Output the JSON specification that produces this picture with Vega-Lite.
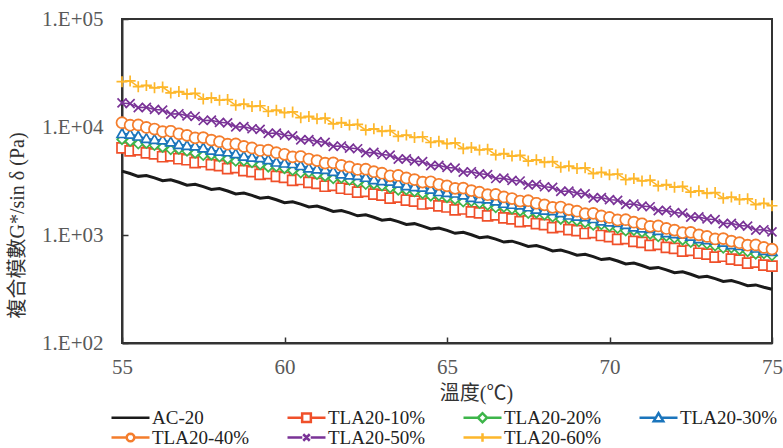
{
"$schema": "https://vega.github.io/schema/vega-lite/v6.json",
"width": 650, "height": 324,
"autosize": "none",
"padding": {"left": 122, "top": 19, "right": 11, "bottom": 105},
"background": "white",
"datasets": {"d": [
{"t":55,"s":"AC-20","v":3900},{"t":55.25,"s":"AC-20","v":3712},{"t":55.5,"s":"AC-20","v":3492},{"t":55.75,"s":"AC-20","v":3559},
{"t":56,"s":"AC-20","v":3382},{"t":56.25,"s":"AC-20","v":3179},{"t":56.5,"s":"AC-20","v":3242},{"t":56.75,"s":"AC-20","v":3080},
{"t":57,"s":"AC-20","v":2896},{"t":57.25,"s":"AC-20","v":2951},{"t":57.5,"s":"AC-20","v":2806},{"t":57.75,"s":"AC-20","v":2637},
{"t":58,"s":"AC-20","v":2689},{"t":58.25,"s":"AC-20","v":2554},{"t":58.5,"s":"AC-20","v":2403},{"t":58.75,"s":"AC-20","v":2449},
{"t":59,"s":"AC-20","v":2328},{"t":59.25,"s":"AC-20","v":2188},{"t":59.5,"s":"AC-20","v":2232},{"t":59.75,"s":"AC-20","v":2121},
{"t":60,"s":"AC-20","v":1993},{"t":60.25,"s":"AC-20","v":2031},{"t":60.5,"s":"AC-20","v":1932},{"t":60.75,"s":"AC-20","v":1816},
{"t":61,"s":"AC-20","v":1851},{"t":61.25,"s":"AC-20","v":1759},{"t":61.5,"s":"AC-20","v":1655},{"t":61.75,"s":"AC-20","v":1686},
{"t":62,"s":"AC-20","v":1602},{"t":62.25,"s":"AC-20","v":1505},{"t":62.5,"s":"AC-20","v":1536},{"t":62.75,"s":"AC-20","v":1459},
{"t":63,"s":"AC-20","v":1373},{"t":63.25,"s":"AC-20","v":1398},{"t":63.5,"s":"AC-20","v":1330},{"t":63.75,"s":"AC-20","v":1250},
{"t":64,"s":"AC-20","v":1274},{"t":64.25,"s":"AC-20","v":1210},{"t":64.5,"s":"AC-20","v":1139},{"t":64.75,"s":"AC-20","v":1161},
{"t":65,"s":"AC-20","v":1103},{"t":65.25,"s":"AC-20","v":1037},{"t":65.5,"s":"AC-20","v":1058},{"t":65.75,"s":"AC-20","v":1005},
{"t":66,"s":"AC-20","v":945},{"t":66.25,"s":"AC-20","v":963},{"t":66.5,"s":"AC-20","v":916},{"t":66.75,"s":"AC-20","v":860},
{"t":67,"s":"AC-20","v":877},{"t":67.25,"s":"AC-20","v":833},{"t":67.5,"s":"AC-20","v":784},{"t":67.75,"s":"AC-20","v":799},
{"t":68,"s":"AC-20","v":759},{"t":68.25,"s":"AC-20","v":713},{"t":68.5,"s":"AC-20","v":727},{"t":68.75,"s":"AC-20","v":691},
{"t":69,"s":"AC-20","v":650},{"t":69.25,"s":"AC-20","v":662},{"t":69.5,"s":"AC-20","v":630},{"t":69.75,"s":"AC-20","v":592},
{"t":70,"s":"AC-20","v":604},{"t":70.25,"s":"AC-20","v":574},{"t":70.5,"s":"AC-20","v":539},{"t":70.75,"s":"AC-20","v":550},
{"t":71,"s":"AC-20","v":522},{"t":71.25,"s":"AC-20","v":491},{"t":71.5,"s":"AC-20","v":501},{"t":71.75,"s":"AC-20","v":476},
{"t":72,"s":"AC-20","v":447},{"t":72.25,"s":"AC-20","v":456},{"t":72.5,"s":"AC-20","v":433},{"t":72.75,"s":"AC-20","v":407},
{"t":73,"s":"AC-20","v":415},{"t":73.25,"s":"AC-20","v":394},{"t":73.5,"s":"AC-20","v":372},{"t":73.75,"s":"AC-20","v":378},
{"t":74,"s":"AC-20","v":360},{"t":74.25,"s":"AC-20","v":339},{"t":74.5,"s":"AC-20","v":345},{"t":74.75,"s":"AC-20","v":328},
{"t":75,"s":"AC-20","v":315},
{"t":55,"s":"TLA20-10%","v":6400},{"t":55.25,"s":"TLA20-10%","v":6016},{"t":55.5,"s":"TLA20-10%","v":6130},{"t":55.75,"s":"TLA20-10%","v":5766},
{"t":56,"s":"TLA20-10%","v":5643},{"t":56.25,"s":"TLA20-10%","v":5304},{"t":56.5,"s":"TLA20-10%","v":5405},{"t":56.75,"s":"TLA20-10%","v":5084},
{"t":57,"s":"TLA20-10%","v":4975},{"t":57.25,"s":"TLA20-10%","v":4676},{"t":57.5,"s":"TLA20-10%","v":4765},{"t":57.75,"s":"TLA20-10%","v":4482},
{"t":58,"s":"TLA20-10%","v":4387},{"t":58.25,"s":"TLA20-10%","v":4123},{"t":58.5,"s":"TLA20-10%","v":4202},{"t":58.75,"s":"TLA20-10%","v":3952},
{"t":59,"s":"TLA20-10%","v":3868},{"t":59.25,"s":"TLA20-10%","v":3636},{"t":59.5,"s":"TLA20-10%","v":3705},{"t":59.75,"s":"TLA20-10%","v":3485},
{"t":60,"s":"TLA20-10%","v":3410},{"t":60.25,"s":"TLA20-10%","v":3205},{"t":60.5,"s":"TLA20-10%","v":3266},{"t":60.75,"s":"TLA20-10%","v":3072},
{"t":61,"s":"TLA20-10%","v":3007},{"t":61.25,"s":"TLA20-10%","v":2826},{"t":61.5,"s":"TLA20-10%","v":2880},{"t":61.75,"s":"TLA20-10%","v":2709},
{"t":62,"s":"TLA20-10%","v":2651},{"t":62.25,"s":"TLA20-10%","v":2492},{"t":62.5,"s":"TLA20-10%","v":2539},{"t":62.75,"s":"TLA20-10%","v":2388},
{"t":63,"s":"TLA20-10%","v":2338},{"t":63.25,"s":"TLA20-10%","v":2198},{"t":63.5,"s":"TLA20-10%","v":2239},{"t":63.75,"s":"TLA20-10%","v":2106},
{"t":64,"s":"TLA20-10%","v":2061},{"t":64.25,"s":"TLA20-10%","v":1937},{"t":64.5,"s":"TLA20-10%","v":1974},{"t":64.75,"s":"TLA20-10%","v":1857},
{"t":65,"s":"TLA20-10%","v":1817},{"t":65.25,"s":"TLA20-10%","v":1708},{"t":65.5,"s":"TLA20-10%","v":1740},{"t":65.75,"s":"TLA20-10%","v":1637},
{"t":66,"s":"TLA20-10%","v":1602},{"t":66.25,"s":"TLA20-10%","v":1506},{"t":66.5,"s":"TLA20-10%","v":1534},{"t":66.75,"s":"TLA20-10%","v":1443},
{"t":67,"s":"TLA20-10%","v":1413},{"t":67.25,"s":"TLA20-10%","v":1328},{"t":67.5,"s":"TLA20-10%","v":1353},{"t":67.75,"s":"TLA20-10%","v":1273},
{"t":68,"s":"TLA20-10%","v":1246},{"t":68.25,"s":"TLA20-10%","v":1171},{"t":68.5,"s":"TLA20-10%","v":1193},{"t":68.75,"s":"TLA20-10%","v":1122},
{"t":69,"s":"TLA20-10%","v":1098},{"t":69.25,"s":"TLA20-10%","v":1032},{"t":69.5,"s":"TLA20-10%","v":1052},{"t":69.75,"s":"TLA20-10%","v":989},
{"t":70,"s":"TLA20-10%","v":968},{"t":70.25,"s":"TLA20-10%","v":910},{"t":70.5,"s":"TLA20-10%","v":927},{"t":70.75,"s":"TLA20-10%","v":872},
{"t":71,"s":"TLA20-10%","v":854},{"t":71.25,"s":"TLA20-10%","v":803},{"t":71.5,"s":"TLA20-10%","v":818},{"t":71.75,"s":"TLA20-10%","v":769},
{"t":72,"s":"TLA20-10%","v":753},{"t":72.25,"s":"TLA20-10%","v":708},{"t":72.5,"s":"TLA20-10%","v":721},{"t":72.75,"s":"TLA20-10%","v":678},
{"t":73,"s":"TLA20-10%","v":664},{"t":73.25,"s":"TLA20-10%","v":624},{"t":73.5,"s":"TLA20-10%","v":636},{"t":73.75,"s":"TLA20-10%","v":598},
{"t":74,"s":"TLA20-10%","v":585},{"t":74.25,"s":"TLA20-10%","v":550},{"t":74.5,"s":"TLA20-10%","v":560},{"t":74.75,"s":"TLA20-10%","v":527},
{"t":75,"s":"TLA20-10%","v":516},
{"t":55,"s":"TLA20-20%","v":7666},{"t":55.25,"s":"TLA20-20%","v":7359},{"t":55.5,"s":"TLA20-20%","v":6993},{"t":55.75,"s":"TLA20-20%","v":7057},
{"t":56,"s":"TLA20-20%","v":6774},{"t":56.25,"s":"TLA20-20%","v":6503},{"t":56.5,"s":"TLA20-20%","v":6180},{"t":56.75,"s":"TLA20-20%","v":6236},
{"t":57,"s":"TLA20-20%","v":5986},{"t":57.25,"s":"TLA20-20%","v":5747},{"t":57.5,"s":"TLA20-20%","v":5461},{"t":57.75,"s":"TLA20-20%","v":5511},
{"t":58,"s":"TLA20-20%","v":5290},{"t":58.25,"s":"TLA20-20%","v":5079},{"t":58.5,"s":"TLA20-20%","v":4826},{"t":58.75,"s":"TLA20-20%","v":4870},
{"t":59,"s":"TLA20-20%","v":4675},{"t":59.25,"s":"TLA20-20%","v":4488},{"t":59.5,"s":"TLA20-20%","v":4265},{"t":59.75,"s":"TLA20-20%","v":4304},
{"t":60,"s":"TLA20-20%","v":4131},{"t":60.25,"s":"TLA20-20%","v":3966},{"t":60.5,"s":"TLA20-20%","v":3769},{"t":60.75,"s":"TLA20-20%","v":3803},
{"t":61,"s":"TLA20-20%","v":3651},{"t":61.25,"s":"TLA20-20%","v":3505},{"t":61.5,"s":"TLA20-20%","v":3331},{"t":61.75,"s":"TLA20-20%","v":3361},
{"t":62,"s":"TLA20-20%","v":3226},{"t":62.25,"s":"TLA20-20%","v":3097},{"t":62.5,"s":"TLA20-20%","v":2943},{"t":62.75,"s":"TLA20-20%","v":2970},
{"t":63,"s":"TLA20-20%","v":2851},{"t":63.25,"s":"TLA20-20%","v":2737},{"t":63.5,"s":"TLA20-20%","v":2601},{"t":63.75,"s":"TLA20-20%","v":2625},
{"t":64,"s":"TLA20-20%","v":2520},{"t":64.25,"s":"TLA20-20%","v":2419},{"t":64.5,"s":"TLA20-20%","v":2299},{"t":64.75,"s":"TLA20-20%","v":2320},
{"t":65,"s":"TLA20-20%","v":2227},{"t":65.25,"s":"TLA20-20%","v":2138},{"t":65.5,"s":"TLA20-20%","v":2032},{"t":65.75,"s":"TLA20-20%","v":2050},
{"t":66,"s":"TLA20-20%","v":1967},{"t":66.25,"s":"TLA20-20%","v":1889},{"t":66.5,"s":"TLA20-20%","v":1795},{"t":66.75,"s":"TLA20-20%","v":1811},
{"t":67,"s":"TLA20-20%","v":1739},{"t":67.25,"s":"TLA20-20%","v":1670},{"t":67.5,"s":"TLA20-20%","v":1587},{"t":67.75,"s":"TLA20-20%","v":1601},
{"t":68,"s":"TLA20-20%","v":1536},{"t":68.25,"s":"TLA20-20%","v":1475},{"t":68.5,"s":"TLA20-20%","v":1401},{"t":68.75,"s":"TLA20-20%","v":1414},
{"t":69,"s":"TLA20-20%","v":1357},{"t":69.25,"s":"TLA20-20%","v":1303},{"t":69.5,"s":"TLA20-20%","v":1238},{"t":69.75,"s":"TLA20-20%","v":1250},
{"t":70,"s":"TLA20-20%","v":1200},{"t":70.25,"s":"TLA20-20%","v":1152},{"t":70.5,"s":"TLA20-20%","v":1095},{"t":70.75,"s":"TLA20-20%","v":1105},
{"t":71,"s":"TLA20-20%","v":1061},{"t":71.25,"s":"TLA20-20%","v":1018},{"t":71.5,"s":"TLA20-20%","v":967},{"t":71.75,"s":"TLA20-20%","v":976},
{"t":72,"s":"TLA20-20%","v":937},{"t":72.25,"s":"TLA20-20%","v":900},{"t":72.5,"s":"TLA20-20%","v":855},{"t":72.75,"s":"TLA20-20%","v":863},
{"t":73,"s":"TLA20-20%","v":828},{"t":73.25,"s":"TLA20-20%","v":795},{"t":73.5,"s":"TLA20-20%","v":756},{"t":73.75,"s":"TLA20-20%","v":762},
{"t":74,"s":"TLA20-20%","v":731},{"t":74.25,"s":"TLA20-20%","v":702},{"t":74.5,"s":"TLA20-20%","v":667},{"t":74.75,"s":"TLA20-20%","v":673},
{"t":75,"s":"TLA20-20%","v":646},
{"t":55,"s":"TLA20-30%","v":8702},{"t":55.25,"s":"TLA20-30%","v":8604},{"t":55.5,"s":"TLA20-30%","v":8255},{"t":55.75,"s":"TLA20-30%","v":7840},
{"t":56,"s":"TLA20-30%","v":7674},{"t":56.25,"s":"TLA20-30%","v":7588},{"t":56.5,"s":"TLA20-30%","v":7280},{"t":56.75,"s":"TLA20-30%","v":6914},
{"t":57,"s":"TLA20-30%","v":6768},{"t":57.25,"s":"TLA20-30%","v":6691},{"t":57.5,"s":"TLA20-30%","v":6420},{"t":57.75,"s":"TLA20-30%","v":6097},
{"t":58,"s":"TLA20-30%","v":5969},{"t":58.25,"s":"TLA20-30%","v":5901},{"t":58.5,"s":"TLA20-30%","v":5662},{"t":58.75,"s":"TLA20-30%","v":5377},
{"t":59,"s":"TLA20-30%","v":5264},{"t":59.25,"s":"TLA20-30%","v":5204},{"t":59.5,"s":"TLA20-30%","v":4993},{"t":59.75,"s":"TLA20-30%","v":4742},
{"t":60,"s":"TLA20-30%","v":4642},{"t":60.25,"s":"TLA20-30%","v":4590},{"t":60.5,"s":"TLA20-30%","v":4403},{"t":60.75,"s":"TLA20-30%","v":4182},
{"t":61,"s":"TLA20-30%","v":4094},{"t":61.25,"s":"TLA20-30%","v":4047},{"t":61.5,"s":"TLA20-30%","v":3883},{"t":61.75,"s":"TLA20-30%","v":3688},
{"t":62,"s":"TLA20-30%","v":3611},{"t":62.25,"s":"TLA20-30%","v":3570},{"t":62.5,"s":"TLA20-30%","v":3425},{"t":62.75,"s":"TLA20-30%","v":3253},
{"t":63,"s":"TLA20-30%","v":3184},{"t":63.25,"s":"TLA20-30%","v":3148},{"t":63.5,"s":"TLA20-30%","v":3020},{"t":63.75,"s":"TLA20-30%","v":2868},
{"t":64,"s":"TLA20-30%","v":2808},{"t":64.25,"s":"TLA20-30%","v":2776},{"t":64.5,"s":"TLA20-30%","v":2663},{"t":64.75,"s":"TLA20-30%","v":2529},
{"t":65,"s":"TLA20-30%","v":2476},{"t":65.25,"s":"TLA20-30%","v":2448},{"t":65.5,"s":"TLA20-30%","v":2349},{"t":65.75,"s":"TLA20-30%","v":2231},
{"t":66,"s":"TLA20-30%","v":2184},{"t":66.25,"s":"TLA20-30%","v":2159},{"t":66.5,"s":"TLA20-30%","v":2072},{"t":66.75,"s":"TLA20-30%","v":1968},
{"t":67,"s":"TLA20-30%","v":1926},{"t":67.25,"s":"TLA20-30%","v":1904},{"t":67.5,"s":"TLA20-30%","v":1827},{"t":67.75,"s":"TLA20-30%","v":1735},
{"t":68,"s":"TLA20-30%","v":1699},{"t":68.25,"s":"TLA20-30%","v":1680},{"t":68.5,"s":"TLA20-30%","v":1612},{"t":68.75,"s":"TLA20-30%","v":1531},
{"t":69,"s":"TLA20-30%","v":1498},{"t":69.25,"s":"TLA20-30%","v":1481},{"t":69.5,"s":"TLA20-30%","v":1421},{"t":69.75,"s":"TLA20-30%","v":1349},
{"t":70,"s":"TLA20-30%","v":1321},{"t":70.25,"s":"TLA20-30%","v":1306},{"t":70.5,"s":"TLA20-30%","v":1253},{"t":70.75,"s":"TLA20-30%","v":1190},
{"t":71,"s":"TLA20-30%","v":1165},{"t":71.25,"s":"TLA20-30%","v":1152},{"t":71.5,"s":"TLA20-30%","v":1105},{"t":71.75,"s":"TLA20-30%","v":1050},
{"t":72,"s":"TLA20-30%","v":1028},{"t":72.25,"s":"TLA20-30%","v":1016},{"t":72.5,"s":"TLA20-30%","v":975},{"t":72.75,"s":"TLA20-30%","v":926},
{"t":73,"s":"TLA20-30%","v":906},{"t":73.25,"s":"TLA20-30%","v":896},{"t":73.5,"s":"TLA20-30%","v":859},{"t":73.75,"s":"TLA20-30%","v":816},
{"t":74,"s":"TLA20-30%","v":799},{"t":74.25,"s":"TLA20-30%","v":790},{"t":74.5,"s":"TLA20-30%","v":758},{"t":74.75,"s":"TLA20-30%","v":720},
{"t":75,"s":"TLA20-30%","v":705},
{"t":55,"s":"TLA20-40%","v":10960},{"t":55.25,"s":"TLA20-40%","v":10386},{"t":55.5,"s":"TLA20-40%","v":10451},{"t":55.75,"s":"TLA20-40%","v":9908},
{"t":56,"s":"TLA20-40%","v":9579},{"t":56.25,"s":"TLA20-40%","v":9077},{"t":56.5,"s":"TLA20-40%","v":9135},{"t":56.75,"s":"TLA20-40%","v":8659},
{"t":57,"s":"TLA20-40%","v":8372},{"t":57.25,"s":"TLA20-40%","v":7933},{"t":57.5,"s":"TLA20-40%","v":7984},{"t":57.75,"s":"TLA20-40%","v":7568},
{"t":58,"s":"TLA20-40%","v":7317},{"t":58.25,"s":"TLA20-40%","v":6934},{"t":58.5,"s":"TLA20-40%","v":6977},{"t":58.75,"s":"TLA20-40%","v":6615},
{"t":59,"s":"TLA20-40%","v":6395},{"t":59.25,"s":"TLA20-40%","v":6060},{"t":59.5,"s":"TLA20-40%","v":6098},{"t":59.75,"s":"TLA20-40%","v":5781},
{"t":60,"s":"TLA20-40%","v":5590},{"t":60.25,"s":"TLA20-40%","v":5297},{"t":60.5,"s":"TLA20-40%","v":5331},{"t":60.75,"s":"TLA20-40%","v":5053},
{"t":61,"s":"TLA20-40%","v":4885},{"t":61.25,"s":"TLA20-40%","v":4629},{"t":61.5,"s":"TLA20-40%","v":4658},{"t":61.75,"s":"TLA20-40%","v":4416},
{"t":62,"s":"TLA20-40%","v":4270},{"t":62.25,"s":"TLA20-40%","v":4046},{"t":62.5,"s":"TLA20-40%","v":4072},{"t":62.75,"s":"TLA20-40%","v":3860},
{"t":63,"s":"TLA20-40%","v":3732},{"t":63.25,"s":"TLA20-40%","v":3536},{"t":63.5,"s":"TLA20-40%","v":3559},{"t":63.75,"s":"TLA20-40%","v":3374},
{"t":64,"s":"TLA20-40%","v":3262},{"t":64.25,"s":"TLA20-40%","v":3091},{"t":64.5,"s":"TLA20-40%","v":3111},{"t":64.75,"s":"TLA20-40%","v":2949},
{"t":65,"s":"TLA20-40%","v":2851},{"t":65.25,"s":"TLA20-40%","v":2702},{"t":65.5,"s":"TLA20-40%","v":2719},{"t":65.75,"s":"TLA20-40%","v":2577},
{"t":66,"s":"TLA20-40%","v":2491},{"t":66.25,"s":"TLA20-40%","v":2360},{"t":66.5,"s":"TLA20-40%","v":2375},{"t":66.75,"s":"TLA20-40%","v":2252},
{"t":67,"s":"TLA20-40%","v":2177},{"t":67.25,"s":"TLA20-40%","v":2063},{"t":67.5,"s":"TLA20-40%","v":2076},{"t":67.75,"s":"TLA20-40%","v":1968},
{"t":68,"s":"TLA20-40%","v":1903},{"t":68.25,"s":"TLA20-40%","v":1803},{"t":68.5,"s":"TLA20-40%","v":1815},{"t":68.75,"s":"TLA20-40%","v":1720},
{"t":69,"s":"TLA20-40%","v":1663},{"t":69.25,"s":"TLA20-40%","v":1576},{"t":69.5,"s":"TLA20-40%","v":1586},{"t":69.75,"s":"TLA20-40%","v":1503},
{"t":70,"s":"TLA20-40%","v":1454},{"t":70.25,"s":"TLA20-40%","v":1378},{"t":70.5,"s":"TLA20-40%","v":1387},{"t":70.75,"s":"TLA20-40%","v":1314},
{"t":71,"s":"TLA20-40%","v":1271},{"t":71.25,"s":"TLA20-40%","v":1204},{"t":71.5,"s":"TLA20-40%","v":1212},{"t":71.75,"s":"TLA20-40%","v":1149},
{"t":72,"s":"TLA20-40%","v":1111},{"t":72.25,"s":"TLA20-40%","v":1053},{"t":72.5,"s":"TLA20-40%","v":1059},{"t":72.75,"s":"TLA20-40%","v":1004},
{"t":73,"s":"TLA20-40%","v":971},{"t":73.25,"s":"TLA20-40%","v":920},{"t":73.5,"s":"TLA20-40%","v":926},{"t":73.75,"s":"TLA20-40%","v":878},
{"t":74,"s":"TLA20-40%","v":848},{"t":74.25,"s":"TLA20-40%","v":804},{"t":74.5,"s":"TLA20-40%","v":809},{"t":74.75,"s":"TLA20-40%","v":767},
{"t":75,"s":"TLA20-40%","v":741},
{"t":55,"s":"TLA20-50%","v":16700},{"t":55.25,"s":"TLA20-50%","v":16458},{"t":55.5,"s":"TLA20-50%","v":15122},{"t":55.75,"s":"TLA20-50%","v":15214},
{"t":56,"s":"TLA20-50%","v":14556},{"t":56.25,"s":"TLA20-50%","v":14345},{"t":56.5,"s":"TLA20-50%","v":13180},{"t":56.75,"s":"TLA20-50%","v":13261},
{"t":57,"s":"TLA20-50%","v":12687},{"t":57.25,"s":"TLA20-50%","v":12503},{"t":57.5,"s":"TLA20-50%","v":11488},{"t":57.75,"s":"TLA20-50%","v":11558},
{"t":58,"s":"TLA20-50%","v":11058},{"t":58.25,"s":"TLA20-50%","v":10898},{"t":58.5,"s":"TLA20-50%","v":10013},{"t":58.75,"s":"TLA20-50%","v":10074},
{"t":59,"s":"TLA20-50%","v":9638},{"t":59.25,"s":"TLA20-50%","v":9498},{"t":59.5,"s":"TLA20-50%","v":8727},{"t":59.75,"s":"TLA20-50%","v":8780},
{"t":60,"s":"TLA20-50%","v":8401},{"t":60.25,"s":"TLA20-50%","v":8279},{"t":60.5,"s":"TLA20-50%","v":7607},{"t":60.75,"s":"TLA20-50%","v":7653},
{"t":61,"s":"TLA20-50%","v":7322},{"t":61.25,"s":"TLA20-50%","v":7216},{"t":61.5,"s":"TLA20-50%","v":6630},{"t":61.75,"s":"TLA20-50%","v":6670},
{"t":62,"s":"TLA20-50%","v":6382},{"t":62.25,"s":"TLA20-50%","v":6289},{"t":62.5,"s":"TLA20-50%","v":5779},{"t":62.75,"s":"TLA20-50%","v":5814},
{"t":63,"s":"TLA20-50%","v":5563},{"t":63.25,"s":"TLA20-50%","v":5482},{"t":63.5,"s":"TLA20-50%","v":5037},{"t":63.75,"s":"TLA20-50%","v":5068},
{"t":64,"s":"TLA20-50%","v":4848},{"t":64.25,"s":"TLA20-50%","v":4778},{"t":64.5,"s":"TLA20-50%","v":4390},{"t":64.75,"s":"TLA20-50%","v":4417},
{"t":65,"s":"TLA20-50%","v":4226},{"t":65.25,"s":"TLA20-50%","v":4165},{"t":65.5,"s":"TLA20-50%","v":3827},{"t":65.75,"s":"TLA20-50%","v":3850},
{"t":66,"s":"TLA20-50%","v":3683},{"t":66.25,"s":"TLA20-50%","v":3630},{"t":66.5,"s":"TLA20-50%","v":3335},{"t":66.75,"s":"TLA20-50%","v":3355},
{"t":67,"s":"TLA20-50%","v":3210},{"t":67.25,"s":"TLA20-50%","v":3163},{"t":67.5,"s":"TLA20-50%","v":2907},{"t":67.75,"s":"TLA20-50%","v":2924},
{"t":68,"s":"TLA20-50%","v":2798},{"t":68.25,"s":"TLA20-50%","v":2757},{"t":68.5,"s":"TLA20-50%","v":2534},{"t":68.75,"s":"TLA20-50%","v":2549},
{"t":69,"s":"TLA20-50%","v":2439},{"t":69.25,"s":"TLA20-50%","v":2404},{"t":69.5,"s":"TLA20-50%","v":2209},{"t":69.75,"s":"TLA20-50%","v":2222},
{"t":70,"s":"TLA20-50%","v":2126},{"t":70.25,"s":"TLA20-50%","v":2095},{"t":70.5,"s":"TLA20-50%","v":1925},{"t":70.75,"s":"TLA20-50%","v":1937},
{"t":71,"s":"TLA20-50%","v":1853},{"t":71.25,"s":"TLA20-50%","v":1826},{"t":71.5,"s":"TLA20-50%","v":1678},{"t":71.75,"s":"TLA20-50%","v":1688},
{"t":72,"s":"TLA20-50%","v":1615},{"t":72.25,"s":"TLA20-50%","v":1592},{"t":72.5,"s":"TLA20-50%","v":1462},{"t":72.75,"s":"TLA20-50%","v":1471},
{"t":73,"s":"TLA20-50%","v":1408},{"t":73.25,"s":"TLA20-50%","v":1388},{"t":73.5,"s":"TLA20-50%","v":1275},{"t":73.75,"s":"TLA20-50%","v":1283},
{"t":74,"s":"TLA20-50%","v":1227},{"t":74.25,"s":"TLA20-50%","v":1209},{"t":74.5,"s":"TLA20-50%","v":1111},{"t":74.75,"s":"TLA20-50%","v":1118},
{"t":75,"s":"TLA20-50%","v":1070},
{"t":55,"s":"TLA20-60%","v":26300},{"t":55.25,"s":"TLA20-60%","v":26715},{"t":55.5,"s":"TLA20-60%","v":23628},{"t":55.75,"s":"TLA20-60%","v":24285},
{"t":56,"s":"TLA20-60%","v":23041},{"t":56.25,"s":"TLA20-60%","v":23405},{"t":56.5,"s":"TLA20-60%","v":20700},{"t":56.75,"s":"TLA20-60%","v":21276},
{"t":57,"s":"TLA20-60%","v":20186},{"t":57.25,"s":"TLA20-60%","v":20505},{"t":57.5,"s":"TLA20-60%","v":18135},{"t":57.75,"s":"TLA20-60%","v":18640},
{"t":58,"s":"TLA20-60%","v":17685},{"t":58.25,"s":"TLA20-60%","v":17964},{"t":58.5,"s":"TLA20-60%","v":15888},{"t":58.75,"s":"TLA20-60%","v":16330},
{"t":59,"s":"TLA20-60%","v":15494},{"t":59.25,"s":"TLA20-60%","v":15739},{"t":59.5,"s":"TLA20-60%","v":13920},{"t":59.75,"s":"TLA20-60%","v":14307},
{"t":60,"s":"TLA20-60%","v":13574},{"t":60.25,"s":"TLA20-60%","v":13788},{"t":60.5,"s":"TLA20-60%","v":12195},{"t":60.75,"s":"TLA20-60%","v":12534},
{"t":61,"s":"TLA20-60%","v":11892},{"t":61.25,"s":"TLA20-60%","v":12080},{"t":61.5,"s":"TLA20-60%","v":10684},{"t":61.75,"s":"TLA20-60%","v":10981},
{"t":62,"s":"TLA20-60%","v":10419},{"t":62.25,"s":"TLA20-60%","v":10584},{"t":62.5,"s":"TLA20-60%","v":9360},{"t":62.75,"s":"TLA20-60%","v":9621},
{"t":63,"s":"TLA20-60%","v":9128},{"t":63.25,"s":"TLA20-60%","v":9272},{"t":63.5,"s":"TLA20-60%","v":8201},{"t":63.75,"s":"TLA20-60%","v":8429},
{"t":64,"s":"TLA20-60%","v":7997},{"t":64.25,"s":"TLA20-60%","v":8123},{"t":64.5,"s":"TLA20-60%","v":7185},{"t":64.75,"s":"TLA20-60%","v":7384},
{"t":65,"s":"TLA20-60%","v":7006},{"t":65.25,"s":"TLA20-60%","v":7117},{"t":65.5,"s":"TLA20-60%","v":6294},{"t":65.75,"s":"TLA20-60%","v":6469},
{"t":66,"s":"TLA20-60%","v":6138},{"t":66.25,"s":"TLA20-60%","v":6235},{"t":66.5,"s":"TLA20-60%","v":5514},{"t":66.75,"s":"TLA20-60%","v":5668},
{"t":67,"s":"TLA20-60%","v":5377},{"t":67.25,"s":"TLA20-60%","v":5462},{"t":67.5,"s":"TLA20-60%","v":4831},{"t":67.75,"s":"TLA20-60%","v":4965},
{"t":68,"s":"TLA20-60%","v":4711},{"t":68.25,"s":"TLA20-60%","v":4785},{"t":68.5,"s":"TLA20-60%","v":4232},{"t":68.75,"s":"TLA20-60%","v":4350},
{"t":69,"s":"TLA20-60%","v":4127},{"t":69.25,"s":"TLA20-60%","v":4192},{"t":69.5,"s":"TLA20-60%","v":3708},{"t":69.75,"s":"TLA20-60%","v":3811},
{"t":70,"s":"TLA20-60%","v":3616},{"t":70.25,"s":"TLA20-60%","v":3673},{"t":70.5,"s":"TLA20-60%","v":3249},{"t":70.75,"s":"TLA20-60%","v":3339},
{"t":71,"s":"TLA20-60%","v":3168},{"t":71.25,"s":"TLA20-60%","v":3218},{"t":71.5,"s":"TLA20-60%","v":2846},{"t":71.75,"s":"TLA20-60%","v":2925},
{"t":72,"s":"TLA20-60%","v":2775},{"t":72.25,"s":"TLA20-60%","v":2819},{"t":72.5,"s":"TLA20-60%","v":2493},{"t":72.75,"s":"TLA20-60%","v":2562},
{"t":73,"s":"TLA20-60%","v":2431},{"t":73.25,"s":"TLA20-60%","v":2469},{"t":73.5,"s":"TLA20-60%","v":2184},{"t":73.75,"s":"TLA20-60%","v":2245},
{"t":74,"s":"TLA20-60%","v":2130},{"t":74.25,"s":"TLA20-60%","v":2164},{"t":74.5,"s":"TLA20-60%","v":1914},{"t":74.75,"s":"TLA20-60%","v":1967},
{"t":75,"s":"TLA20-60%","v":1866}
]},
"data": {"name": "d"},
"encoding": {
  "x": {"field": "t", "type": "quantitative", "title": "溫度(℃)",
        "scale": {"domain": [55, 75], "nice": false, "zero": false},
        "axis": {"values": [55, 60, 65, 70, 75], "tickSize": -6, "labelPadding": 19, "labelFlush": false, "titlePadding": 6, "titleX": 354}},
  "y": {"field": "v", "type": "quantitative", "title": "複合模數G*/sin δ (Pa)",
        "scale": {"type": "log", "domain": [100, 100000], "nice": false},
        "axis": {"values": [100, 1000, 10000, 100000], "tickSize": -6, "labelPadding": 25, "labelExpr": "'1.E+0' + round(log(datum.value) / LN10)", "titlePadding": 14, "titleY": 206}}
},
"layer": [
  {"transform": [{"filter": "datum.s != 'AC-20'"}],
   "mark": {"type": "line", "strokeWidth": 1.5},
   "encoding": {"stroke": {"field": "s", "type": "nominal", "legend": null,
      "scale": {"domain": ["AC-20","TLA20-10%","TLA20-20%","TLA20-30%","TLA20-40%","TLA20-50%","TLA20-60%"],
                "range": ["#1a1a1a","#F0502A","#3DB54A","#1B75BC","#F47D2C","#7A3397","#FDB72B"]}}}},
  {"transform": [{"filter": "datum.s != 'AC-20'"}],
   "mark": {"type": "point", "filled": false, "fill": "white", "size": 100, "strokeWidth": 1.7, "opacity": 1},
   "encoding": {
     "stroke": {"field": "s", "type": "nominal", "legend": null,
      "scale": {"domain": ["AC-20","TLA20-10%","TLA20-20%","TLA20-30%","TLA20-40%","TLA20-50%","TLA20-60%"],
                "range": ["#1a1a1a","#F0502A","#3DB54A","#1B75BC","#F47D2C","#7A3397","#FDB72B"]}},
     "shape": {"field": "s", "type": "nominal", "legend": null,
       "scale": {"domain": ["TLA20-10%","TLA20-20%","TLA20-30%","TLA20-40%","TLA20-50%","TLA20-60%"],
                 "range": ["M-1,-1L1,-1L1,1L-1,1Z",
                           "M-0.95,0L0,-0.95L0.95,0L0,0.95Z",
                           "M0,-0.95L1,0.8L-1,0.8Z",
                           "M1.1,0L1.016,0.421L0.778,0.778L0.421,1.016L0,1.1L-0.421,1.016L-0.778,0.778L-1.016,0.421L-1.1,0L-1.016,-0.421L-0.778,-0.778L-0.421,-1.016L0,-1.1L0.421,-1.016L0.778,-0.778L1.016,-0.421Z",
                           "M-0.9,-0.9L0.9,0.9M-0.9,0.9L0.9,-0.9",
                           "M-1.1,0L1.1,0M0,-1.1L0,1.1"]}}}},
  {"transform": [{"filter": "datum.s == 'AC-20'"}],
   "mark": {"type": "line", "strokeWidth": 3},
   "encoding": {"stroke": {"field": "s", "type": "nominal", "legend": null,
      "scale": {"domain": ["AC-20","TLA20-10%","TLA20-20%","TLA20-30%","TLA20-40%","TLA20-50%","TLA20-60%"],
                "range": ["#1a1a1a","#F0502A","#3DB54A","#1B75BC","#F47D2C","#7A3397","#FDB72B"]}}}},
  {"transform": [{"filter": "datum.v < 0"}],
   "mark": {"type": "point", "filled": false, "size": 100, "strokeWidth": 2.5, "opacity": 1},
   "encoding": {
     "stroke": {"field": "s", "type": "nominal",
       "scale": {"domain": ["AC-20","TLA20-10%","TLA20-20%","TLA20-30%","TLA20-40%","TLA20-50%","TLA20-60%"],
                "range": ["#1a1a1a","#F0502A","#3DB54A","#1B75BC","#F47D2C","#7A3397","#FDB72B"]},
       "legend": {"orient": "none", "direction": "horizontal", "legendX": -1, "legendY": 389, "columns": 4, "title": null, "symbolSize": 100, "symbolStrokeWidth": 2.5, "labelFont": "serif", "labelFontSize": 19, "labelColor": "#222", "labelOffset": 12, "columnPadding": 32, "rowPadding": 0, "padding": 0}},
     "shape": {"field": "s", "type": "nominal",
       "legend": {"orient": "none", "direction": "horizontal", "legendX": -1, "legendY": 389, "columns": 4, "title": null, "symbolSize": 100, "symbolStrokeWidth": 2.5, "labelFont": "serif", "labelFontSize": 19, "labelColor": "#222", "labelOffset": 12, "columnPadding": 32, "rowPadding": 0, "padding": 0},
       "scale": {"domain": ["AC-20","TLA20-10%","TLA20-20%","TLA20-30%","TLA20-40%","TLA20-50%","TLA20-60%"],
                 "range": ["M-3.8,0L3.8,0",
                           "M-3.8,0L-0.87,0M0.87,0L3.8,0M-0.87,-0.87L0.87,-0.87L0.87,0.87L-0.87,0.87Z",
                           "M-3.8,0L-0.91,0M0.91,0L3.8,0M-0.91,0L0,-0.91L0.91,0L0,0.91Z",
                           "M-3.8,0L-0.54,0M0.54,0L3.8,0M0,-0.91L0.95,0.68L-0.95,0.68Z",
                           "M-3.8,0L-0.76,0M0.76,0L3.8,0M0.76,0L0.702,0.291L0.537,0.537L0.291,0.702L0,0.76L-0.291,0.702L-0.537,0.537L-0.702,0.291L-0.76,0L-0.702,-0.291L-0.537,-0.537L-0.291,-0.702L0,-0.76L0.291,-0.702L0.537,-0.537L0.702,-0.291Z",
                           "M-3.8,0L-0.84,0M0.84,0L3.8,0M-0.65,-0.65L0.65,0.65M-0.65,0.65L0.65,-0.65",
                           "M-3.8,0L3.8,0M0,-0.84L0,0.84"]}}}}
],
"resolve": {"scale": {"shape": "independent", "stroke": "independent"}},
"config": {
  "font": "serif",
  "view": {"stroke": "#333", "strokeWidth": 2},
  "axis": {"grid": false, "domainColor": "#333", "domainWidth": 2, "tickColor": "#333", "tickWidth": 1.5,
           "labelFont": "serif", "labelFontSize": 21, "labelColor": "#595959",
           "titleFont": "serif, Noto Sans CJK TC", "titleFontSize": 20, "titleFontWeight": "normal", "titleColor": "#333"}
}
}
